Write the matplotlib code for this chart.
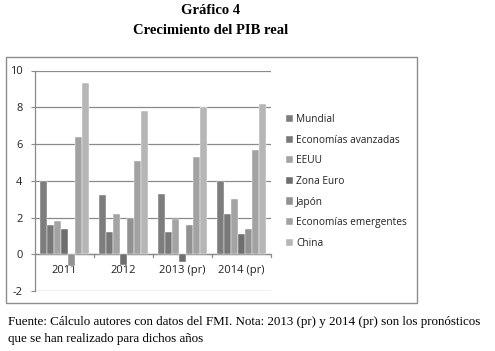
import matplotlib
matplotlib.use("Agg")
import matplotlib.pyplot as plt
import numpy as np
from matplotlib.patches import Rectangle

plt.rcParams["axes.unicode_minus"] = False

categories = ["2011", "2012", "2013 (pr)", "2014 (pr)"]
series_names = ["Mundial", "Economías avanzadas", "EEUU", "Zona Euro", "Japón",
                "Economías emergentes", "China"]
mundial = [4.0, 3.2, 3.3, 4.0]
avanzadas = [1.6, 1.2, 1.2, 2.2]
eeuu = [1.8, 2.2, 1.9, 3.0]
zona_euro = [1.4, -0.6, -0.4, 1.1]
japon = [-0.65, 2.0, 1.6, 1.4]
emergentes = [6.4, 5.1, 5.3, 5.7]
china = [9.3, 7.8, 8.0, 8.2]
series = [mundial, avanzadas, eeuu, zona_euro, japon, emergentes, china]
colors = ["#7d7d7d", "#787878", "#a4a4a4", "#6e6e6e", "#929292", "#a2a2a2", "#b6b6b6"]

fig = plt.figure(figsize=(4.95, 3.51), dpi=100)
W, H = 495, 351

# outer chart box
fig.patches.append(Rectangle((6 / W, 1 - 303 / H), (417 - 6) / W, (303 - 57) / H,
                             transform=fig.transFigure, fill=False,
                             edgecolor="#8c8c8c", linewidth=1.0))

ax = fig.add_axes([35 / W, 1 - 291 / H, (271 - 35) / W, (291 - 70.5) / H])
x = np.arange(len(categories))
n = len(series)
gw = 0.83
bw = gw / n
for i, (vals, c, name) in enumerate(zip(series, colors, series_names)):
    ax.bar(x - gw / 2 + bw * (i + 0.5), vals, width=bw, color=c, label=name,
           edgecolor="white", linewidth=0.3, zorder=3)

ax.set_xlim(-0.5, len(categories) - 0.5)
ax.set_ylim(-2, 10)
ax.set_yticks([-2, 0, 2, 4, 6, 8, 10])
ax.yaxis.grid(True, color="#8a8a8a", linewidth=0.9, zorder=0)
ax.set_axisbelow(True)
for s in ["top", "right", "bottom"]:
    ax.spines[s].set_visible(False)
ax.spines["left"].set_color("#8a8a8a")
ax.spines["left"].set_linewidth(0.9)
ax.tick_params(axis="y", length=3, color="#8a8a8a", labelsize=8, pad=6,
               labelcolor="#222222")
ax.set_xticks([])
# category axis at y=0 with boundary ticks
ax.axhline(0, color="#8a8a8a", linewidth=0.9, zorder=1)
for b in np.arange(0.5, len(categories), 1.0):
    ax.plot([b, b], [0, -0.15], color="#8a8a8a", linewidth=0.9, clip_on=False)
for xi, lab in zip(x, categories):
    ax.text(xi, -0.88, lab, ha="center", va="center", fontsize=8, color="#222222",
            family="Open Sans", zorder=2)
for t in ax.get_yticklabels():
    t.set_family("Open Sans")

handles, labels = ax.get_legend_handles_labels()
leg = fig.legend(handles, labels, loc="upper left",
                 bbox_to_anchor=(282 / W, 1 - 110 / H), frameon=False,
                 prop={"family": "Open Sans", "size": 7.3},
                 handlelength=0.7, handleheight=0.7, handletextpad=0.3,
                 labelspacing=0.95, borderaxespad=0)
for t in leg.get_texts():
    t.set_color("#222222")

fig.text(211 / W, 1 - 10 / H, "Gráfico 4", ha="center", va="center",
         family="Liberation Serif", fontweight="bold", fontsize=10.5)
fig.text(211 / W, 1 - 31 / H, "Crecimiento del PIB real", ha="center", va="center",
         family="Liberation Serif", fontweight="bold", fontsize=10.5)
fig.text(8 / W, 1 - 322 / H,
         "Fuente: Cálculo autores con datos del FMI. Nota: 2013 (pr) y 2014 (pr) son los pronósticos",
         ha="left", va="center", family="Liberation Serif", fontsize=9.4)
fig.text(8 / W, 1 - 339 / H, "que se han realizado para dichos años",
         ha="left", va="center", family="Liberation Serif", fontsize=9.4)

fig.savefig("out.png", dpi=100)
